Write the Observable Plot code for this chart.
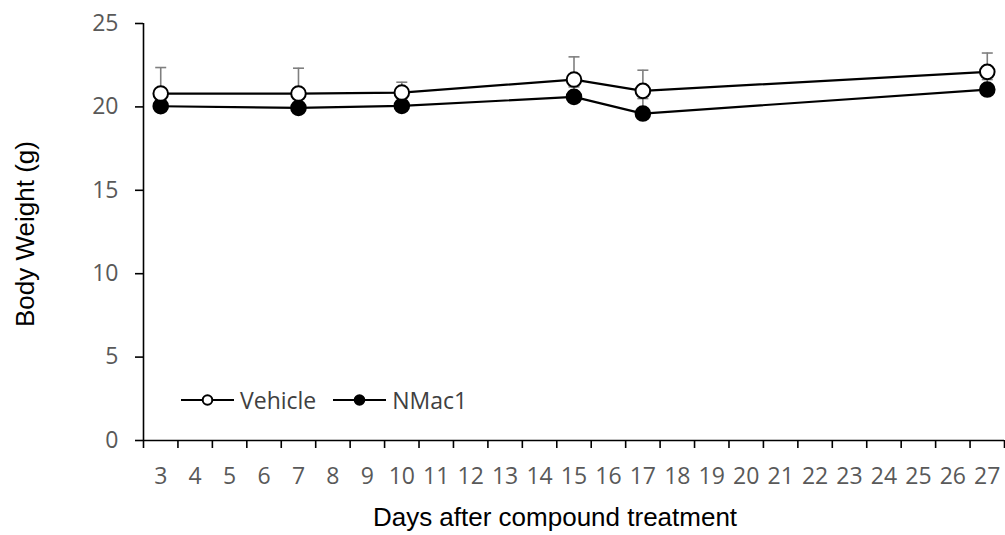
<!DOCTYPE html>
<html>
<head>
<meta charset="utf-8">
<script src="https://cdn.jsdelivr.net/npm/d3@7"></script>
<script src="https://cdn.jsdelivr.net/npm/@observablehq/plot@0.6"></script>
<style>
  html, body { margin: 0; padding: 0; background: white; }
  #wrap { position: relative; width: 1005px; height: 535px; overflow: hidden; }
  #wrap > svg { position: absolute; left: 0; top: 0; }
  .ytitle { position: absolute; left: 25px; top: 234px; width: 320px; text-align: center;
    transform: translate(-50%, -50%) rotate(-90deg); font: 26px/26px "Liberation Sans", Arial, sans-serif; color: #000; white-space: nowrap; }
  .xtitle { position: absolute; left: 255px; top: 504px; width: 600px; text-align: center;
    font: 26px/26px "Liberation Sans", Arial, sans-serif; color: #000; white-space: nowrap; }
  #legend { position: absolute; left: 181px; top: 388px; display: flex; align-items: center;
    font: 23px/24px "Open Sans", sans-serif; color: #404040; }
  #legend .item { display: flex; align-items: center; margin-right: 17px; }
  #legend .item svg { display: block; }
  #legend .item span { margin-left: 6px; }
</style>
</head>
<body>
<div id="wrap"></div>
<script>
// ---- data ----
const days = [3, 7, 10, 15, 17, 27];
const seriesNames = ["Vehicle", "NMac1"];
const vehicleMean = [20.8, 20.8, 20.86, 21.64, 20.96, 22.1];
const vehicleSD   = [1.56, 1.52, 0.62, 1.36, 1.24, 1.13];
const nmac1Mean   = [20.04, 19.94, 20.06, 20.6, 19.6, 21.04];
const nmac1SD     = [0.6, 0.6, 0.5, 0.6, 0.9, 0.6];
const xTickLabels = d3.range(3, 28);          // 3 .. 27 category labels
const yTicks = [0, 5, 10, 15, 20, 25];
const xTitle = "Days after compound treatment";
const yTitle = "Body Weight (g)";

// ---- build tables ----
const vehicle = days.map((d, i) => ({day: d, mean: vehicleMean[i], hi: vehicleMean[i] + vehicleSD[i]}));
const nmac1 = days.map((d, i) => ({day: d, mean: nmac1Mean[i], hi: nmac1Mean[i] + nmac1SD[i]}));
const xDomain = [xTickLabels[0] - 0.5, xTickLabels[xTickLabels.length - 1] + 0.5];
const boundaries = d3.range(xDomain[0], xDomain[1] + 0.01, 1);

const capSymbol = {
  draw(context, size) {
    const r = Math.sqrt(size / Math.PI);
    context.moveTo(-r, 0);
    context.lineTo(r, 0);
  }
};
const errColor = "#7f7f7f";

const chart = Plot.plot({
  width: 1005,
  height: 535,
  marginLeft: 143,
  marginRight: 1,
  marginTop: 23,
  marginBottom: 95,
  x: {domain: xDomain, axis: null},
  y: {domain: [yTicks[0], yTicks[yTicks.length - 1]], axis: null},
  style: {fontFamily: "'Open Sans', sans-serif", background: "white", overflow: "visible"},
  marks: [
    Plot.axisY({ticks: yTicks, tickSize: 8, tickPadding: 17, stroke: "black", strokeWidth: 1.6,
      fill: "#595959", fontSize: 23, label: null}),
    Plot.axisX({ticks: boundaries, tickSize: 8, tickFormat: () => "", stroke: "black", strokeWidth: 1.6, label: null}),
    Plot.axisX({ticks: xTickLabels, tickSize: 0, tickPadding: 27, fill: "#595959", fontSize: 23, label: null}),
    Plot.ruleY([yTicks[0]], {stroke: "black", strokeWidth: 1.6}),
    Plot.ruleX([xDomain[0]], {stroke: "black", strokeWidth: 1.6}),
    // error bars
    Plot.ruleX(nmac1, {x: "day", y1: "mean", y2: "hi", stroke: errColor, strokeWidth: 1.6}),
    Plot.dot(nmac1, {x: "day", y: "hi", symbol: capSymbol, r: 5.5, stroke: errColor, strokeWidth: 1.6, fill: "none"}),
    Plot.ruleX(vehicle, {x: "day", y1: "mean", y2: "hi", stroke: errColor, strokeWidth: 1.6}),
    Plot.dot(vehicle, {x: "day", y: "hi", symbol: capSymbol, r: 5.5, stroke: errColor, strokeWidth: 1.6, fill: "none"}),
    // lines
    Plot.line(nmac1, {x: "day", y: "mean", stroke: "black", strokeWidth: 2.2}),
    Plot.line(vehicle, {x: "day", y: "mean", stroke: "black", strokeWidth: 2.2}),
    // markers
    Plot.dot(nmac1, {x: "day", y: "mean", r: 7.3, fill: "black", stroke: "black", strokeWidth: 2}),
    Plot.dot(vehicle, {x: "day", y: "mean", r: 7.3, fill: "white", stroke: "black", strokeWidth: 2})
  ]
});

const wrap = document.getElementById("wrap");
wrap.appendChild(chart);

// titles
const yt = document.createElement("div");
yt.className = "ytitle"; yt.textContent = yTitle; wrap.appendChild(yt);
const xt = document.createElement("div");
xt.className = "xtitle"; xt.textContent = xTitle; wrap.appendChild(xt);

// legend
const legend = d3.select(wrap).append("div").attr("id", "legend");
const fills = {"Vehicle": "white", "NMac1": "black"};
seriesNames.forEach((name) => {
  const item = legend.append("div").attr("class", "item");
  const s = item.append("svg").attr("width", 53).attr("height", 24);
  s.append("line").attr("x1", 0).attr("x2", 53).attr("y1", 12).attr("y2", 12)
    .attr("stroke", "black").attr("stroke-width", 2);
  s.append("circle").attr("cx", 26.5).attr("cy", 12).attr("r", 4.8)
    .attr("fill", fills[name]).attr("stroke", "black").attr("stroke-width", 2);
  item.append("span").text(name);
});
</script>
</body>
</html>
